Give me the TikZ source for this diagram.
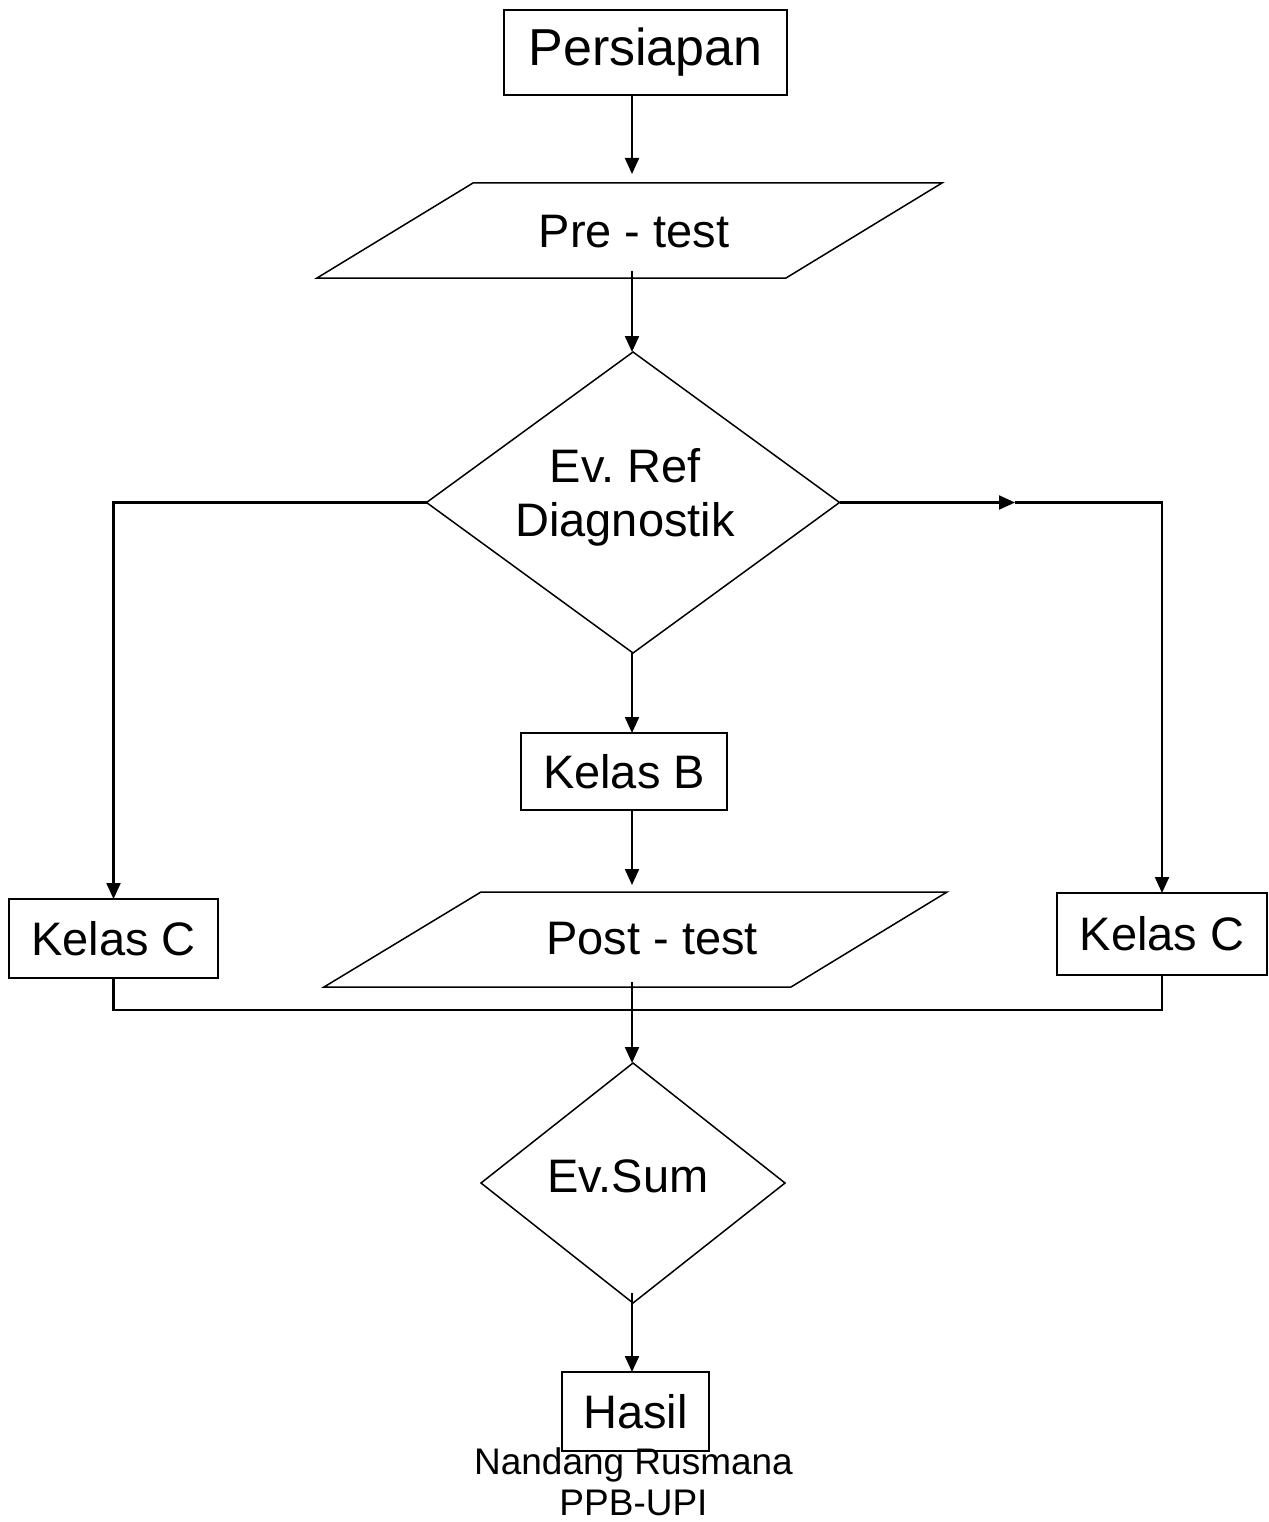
\documentclass[tikz,border=0pt]{standalone}
\usepackage{fontspec}
\setmainfont{Liberation Sans}
\usetikzlibrary{arrows.meta,shapes.geometric}
\frenchspacing
\begin{document}
\begin{tikzpicture}[x=1pt,y=-1pt,
  box/.style={draw,line width=1.8pt,inner sep=0pt,outer sep=0pt,font=\fontsize{47}{54}\selectfont},
  dia/.style={draw,diamond,line width=1.5pt,inner sep=0pt,outer sep=0pt},
  lbl/.style={inner sep=0pt,outer sep=0pt,font=\fontsize{47}{54}\selectfont,align=center},
  conn/.style={line width=2.2pt},
  arr/.style={conn,-{Triangle[length=16pt,width=14pt]}},
  para/.style={line width=1.5pt,line join=miter}]
\useasboundingbox (0,0) rectangle (1268,1522);
\fill[white] (0,0) rectangle (1268,1522);
\coordinate (ax) at (632,0);

% Persiapan
\node[box,minimum width=283pt,minimum height=85pt,font=\fontsize{52}{60}\selectfont] (pers) at (645.5,52.5) {Persiapan};

% Pre-test
\draw[para] (473,183) -- (942,183) -- (786,278) -- (317,278) -- cycle;
\node[lbl] (pre) at (634,231.5) {Pre - test};
\coordinate (preIn) at (632,174);
\coordinate (preOut) at (632,271);

% Ev. Ref Diagnostik
\node[dia,minimum width=413pt,minimum height=301pt] (ref) at (633,502.5) {};
\node[lbl] (reftxt) at (625,497) {Ev. Ref\\Diagnostik};

% Kelas boxes
\node[box,minimum width=209pt,minimum height=79pt] (kc1) at (113.5,938.5) {Kelas C};
\node[box,minimum width=210pt,minimum height=82pt] (kc2) at (1162,934) {Kelas C};
\node[box,minimum width=206pt,minimum height=77pt] (kb) at (624,771.5) {Kelas B};

% Post-test
\draw[para] (481,892) -- (947,892) -- (791,987) -- (324,987) -- cycle;
\node[lbl] (post) at (652,939) {Post - test};
\coordinate (postIn) at (632,885);
\coordinate (postOut) at (632,982);

% Ev.Sum
\node[dia,minimum width=304pt,minimum height=240pt] (sum) at (633,1183) {};
\node[lbl] (sumtxt) at (628,1176) {Ev.Sum};
\coordinate (sumOut) at (632,1293);

% Hasil
\node[box,minimum width=147pt,minimum height=79pt] (hasil) at (635.5,1411.5) {Hasil};
\node[lbl,anchor=north,font=\fontsize{37}{41}\selectfont] (author) at (633.5,1448) {Nandang Rusmana\\PPB-UPI};

% connectors
\coordinate (mr) at (1015,502.5);
\coordinate (merge) at (632,1010);
\draw[arr] (pers.south -| ax) -- (preIn);
\draw[arr] (preOut) -- (preOut |- ref.north);
\draw[arr] (ref.west) -| (kc1.north);
\draw[arr] (ref.east) -- (mr);
\draw[arr] (mr) -| (kc2.north);
\draw[arr] (ref.south -| ax) -- (ax |- kb.north);
\draw[arr] (kb.south -| ax) -- (postIn);
\draw[conn] (kc1.south) |- (merge) -| (kc2.south);
\draw[arr] (postOut) -- (postOut |- sum.north);
\draw[arr] (sumOut) -- (hasil.north -| ax);
\end{tikzpicture}
\end{document}
